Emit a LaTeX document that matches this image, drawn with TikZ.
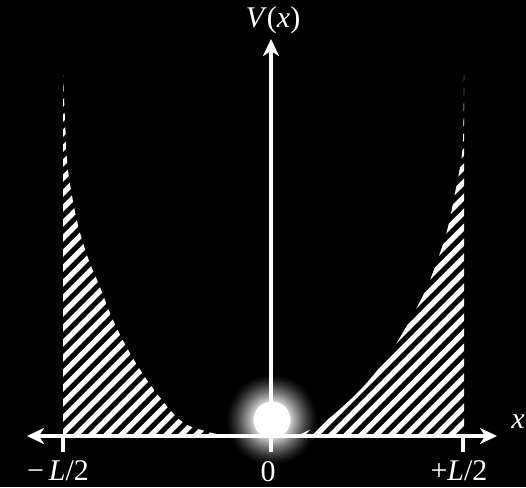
\documentclass[tikz,border=0pt]{standalone}
\usepackage{fontspec}
\setmainfont{Liberation Serif}
\usetikzlibrary{arrows.meta}
\tikzset{
  axisline/.style={white, line width=4pt},
  axisarrow/.style={axisline, -{Stealth[length=17pt,width=16pt,inset=5pt]}},
  tickline/.style={white, line width=4pt},
  hatchline/.style={white, line width=5.3pt},
  lbl/.style={white, anchor=base, inner sep=0pt, font=\fontsize{30}{34}\selectfont},
}
\begin{document}
\begin{tikzpicture}[x=1pt,y=-1pt]
\useasboundingbox (0,0) rectangle (526,487);
\fill[black] (0,0) rectangle (526,487);
% glow
\coordinate (ballc) at (272,420);
\foreach \r in {47,46,...,19} {
  \pgfmathsetmacro{\p}{82*((47-\r)/28)^1.4}
  \fill[white!\p!black] (ballc) circle (\r);
}
% left hatched region
\begin{scope}
\clip (63,437) -- plot[smooth, tension=0.6] coordinates {(63,75) (65,120) (67,160) (71,190) (78,225) (88,258) (100,287) (113,320) (130,353) (152,387) (180,420) (205,431) (232,437)} -- cycle;
\foreach \k in {9,...,60} {\draw[hatchline] ({15*\k+1},0) -- ({15*\k+1-500},500);}
\end{scope}
% right hatched region
\begin{scope}
\clip (464,437) -- plot[smooth, tension=0.6] coordinates {(464,75) (463,140) (460,167) (455,193) (448,227) (440,253) (427,287) (410,320) (390,353) (363,387) (327,420) (305,432) (294,437)} -- cycle;
\foreach \k in {30,...,61} {\draw[hatchline] ({15*\k+1},0) -- ({15*\k+1-500},500);}
\end{scope}
% axes
\coordinate (xl) at (27,436);
\coordinate (xr) at (497,436);
\coordinate (yb) at (271,452);
\coordinate (yt) at (271,39);
\coordinate (tl) at (63,436);
\coordinate (tlb) at (63,452);
\coordinate (tr) at (463,436);
\coordinate (trb) at (463,452);
\draw[axisarrow] (271,436) -- (xl);
\draw[axisarrow] (271,436) -- (xr);
\draw[axisarrow] (yb) -- (yt);
\draw[tickline] (tl) -- (tlb);
\draw[tickline] (tr) -- (trb);
% ball
\fill[white] (ballc) circle (18.5);
% labels
\node[lbl] (vx) at (273,28) {\textit{V}(\textit{x})};
\node[lbl] (xlab) at (518,428) {\textit{x}};
\node[lbl] (zero) at (268,481) {0};
\node[lbl] (ml) at (58,480) {−\,\textit{L}/2};
\node[lbl] (pl) at (459,480) {+\textit{L}/2};
\end{tikzpicture}
\end{document}
